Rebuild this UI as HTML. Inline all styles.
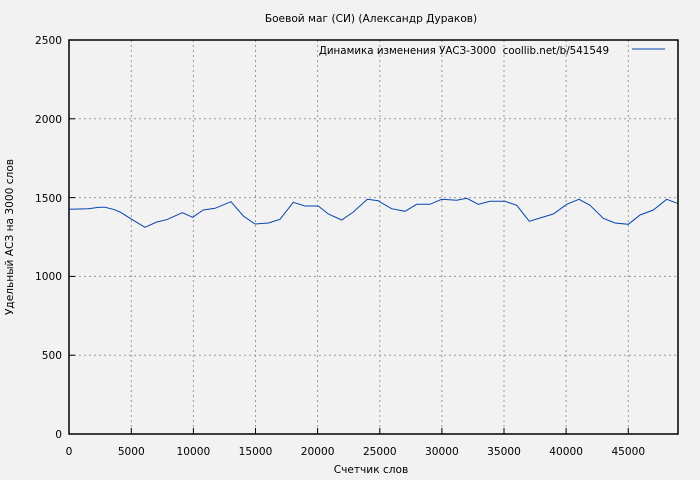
<!DOCTYPE html><html><head><meta charset="utf-8"><style>body{margin:0;background:#f2f2f2}svg{display:block;font-family:"DejaVu Sans","Liberation Sans",sans-serif;font-size:10.6px}</style></head><body>
<svg width="700" height="480" viewBox="0 0 700 480">
<rect width="700" height="480" fill="#f2f2f2"/>
<g stroke="#999" stroke-dasharray="2,3" stroke-width="1">
<line x1="131.3" y1="40" x2="131.3" y2="434"/><line x1="193.4" y1="40" x2="193.4" y2="434"/><line x1="255.5" y1="40" x2="255.5" y2="434"/><line x1="317.6" y1="40" x2="317.6" y2="434"/><line x1="379.8" y1="40" x2="379.8" y2="434"/><line x1="441.9" y1="40" x2="441.9" y2="434"/><line x1="504" y1="40" x2="504" y2="434"/><line x1="566.1" y1="40" x2="566.1" y2="434"/><line x1="628.3" y1="40" x2="628.3" y2="434"/>
<line x1="69" y1="355.2" x2="678" y2="355.2"/><line x1="69" y1="276.4" x2="678" y2="276.4"/><line x1="69" y1="197.6" x2="678" y2="197.6"/><line x1="69" y1="118.8" x2="678" y2="118.8"/>
</g>
<rect x="69" y="40" width="609" height="394" fill="none" stroke="#000" stroke-width="1.5"/>
<g stroke="#000"><line x1="69" y1="355.2" x2="75" y2="355.2"/><line x1="69" y1="276.4" x2="75" y2="276.4"/><line x1="69" y1="197.6" x2="75" y2="197.6"/><line x1="69" y1="118.8" x2="75" y2="118.8"/>
<line x1="131.3" y1="434" x2="131.3" y2="428"/><line x1="193.4" y1="434" x2="193.4" y2="428"/><line x1="255.5" y1="434" x2="255.5" y2="428"/><line x1="317.6" y1="434" x2="317.6" y2="428"/><line x1="379.8" y1="434" x2="379.8" y2="428"/><line x1="441.9" y1="434" x2="441.9" y2="428"/><line x1="504" y1="434" x2="504" y2="428"/><line x1="566.1" y1="434" x2="566.1" y2="428"/><line x1="628.3" y1="434" x2="628.3" y2="428"/></g>
<g text-anchor="end"><text x="62" y="438">0</text><text x="62" y="359">500</text><text x="62" y="280">1000</text><text x="62" y="202">1500</text><text x="62" y="123">2000</text><text x="62" y="44">2500</text></g>
<g text-anchor="middle"><text x="69" y="455">0</text><text x="131.3" y="455">5000</text><text x="193.4" y="455">10000</text><text x="255.5" y="455">15000</text><text x="317.6" y="455">20000</text><text x="379.8" y="455">25000</text><text x="441.9" y="455">30000</text><text x="504" y="455">35000</text><text x="566.1" y="455">40000</text><text x="628.3" y="455">45000</text>
<text x="371" y="22">Боевой маг (СИ) (Александр Дураков)</text><text x="371" y="473">Счетчик слов</text>
<text transform="translate(13,237) rotate(-90)">Удельный АСЗ на 3000 слов</text></g>
<text x="609" y="54" text-anchor="end" xml:space="preserve" font-size="10.3">Динамика изменения УАСЗ-3000  coollib.net/b/541549</text>
<line x1="632" y1="49" x2="665" y2="49" stroke="#0645ad" stroke-width="1"/>
<polyline fill="none" stroke="#0645ad" stroke-width="1" points="69.3,209.3 88.3,208.7 99.3,207.3 105,207.3 113.3,209.3 120,212 131.7,219.3 145,227.3 156.7,222 166.7,219.7 182.3,212.7 192.7,217.3 203.3,210 215,208.3 231,201.7 243.3,216 255,224 268.3,223 280,219.3 293.3,202.3 305,206 318.3,206 328.3,214 341.7,220 353.3,212 367.3,199.3 378.3,200.7 380,202 391.7,208.7 405,211.3 416.7,204.3 430,204.3 441.7,199.3 456.7,200.3 466.7,198.3 478.3,204.3 490,201.3 505,201.3 516.7,205.3 529.3,221.3 540,218 553.3,214 566.7,204.3 579,199.3 590,205.3 603.3,218.3 615,223 628.3,224.3 640,215 653.3,210 666.7,199.3 677.3,203.3"/>
</svg></body></html>
